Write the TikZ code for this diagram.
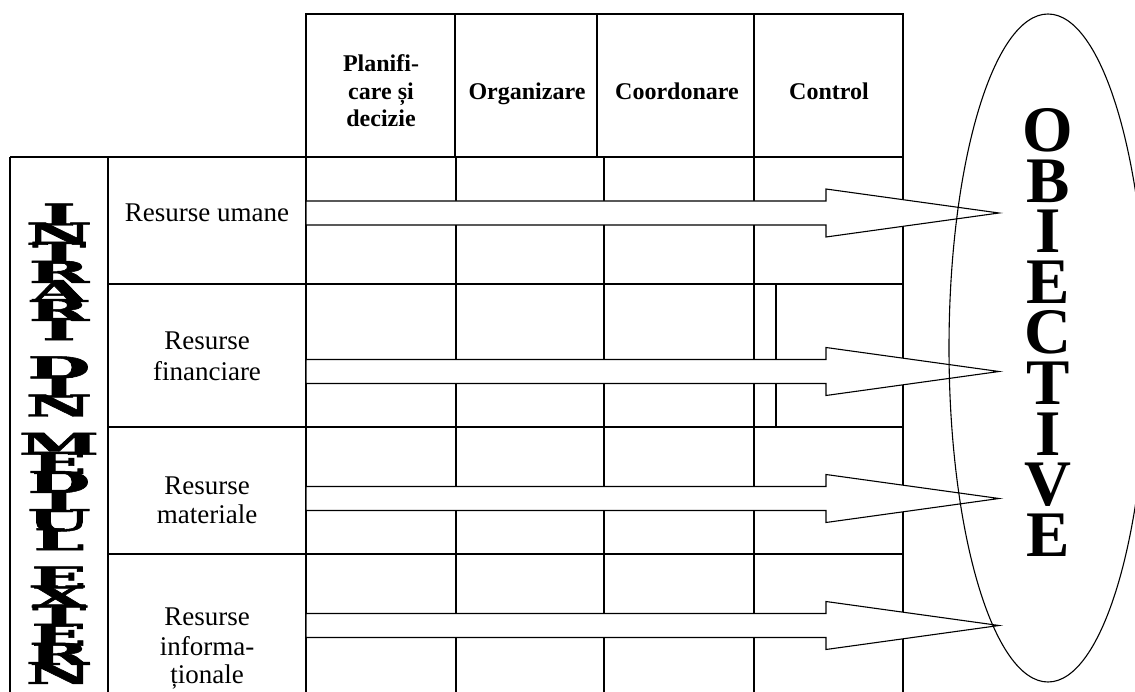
\documentclass[tikz,border=0pt]{standalone}
\usepackage{graphicx}
\usepackage{fontspec}
\setmainfont{Liberation Serif}
\newfontfamily\slabfont{DejaVu Serif}[BoldFeatures={FakeBold=1.6}]
\usetikzlibrary{shapes.geometric}

\tikzset{
  tabline/.style={line width=1.1pt},
  flow/.style={draw, line width=1.1pt, fill=white, line join=miter},
  headtxt/.style={font=\fontsize{24}{27}\selectfont\bfseries, inner sep=0pt, anchor=base},
  rowtxt/.style={font=\fontsize{27}{30}\selectfont, inner sep=0pt, anchor=base},
  vlet/.style={font=\fontsize{50}{50}\slabfont\bfseries, inner sep=0pt, anchor=base},
  olet/.style={font=\fontsize{65}{65}\selectfont\bfseries, inner sep=0pt, anchor=base},
  goal/.style={draw, ellipse, line width=1.1pt, inner sep=0pt},
}

\begin{document}
\begin{tikzpicture}[x=1pt,y=-1pt]
\useasboundingbox (0,0) rectangle (1135,692);

% header row of the management functions
\draw[tabline] (306,14) rectangle (903,157);
\foreach \x in {455,597,754} \draw[tabline] (\x,14) -- (\x,157);

% body of the table
\draw[tabline] (10,157) -- (903,157);
\foreach \x in {10,108,306,456,604,754,903} \draw[tabline] (\x,157) -- (\x,692);
\foreach \y in {284,427,554} \draw[tabline] (108,\y) -- (903,\y);
\draw[tabline] (776,284) -- (776,427);

% resource flows
\foreach \c [count=\i] in {213,371.5,498.5,625.5} {
  \coordinate (tip\i) at (999,\c);
  \draw[flow] (306,\c-12) -- (826,\c-12) -- (826,\c-24) -- (tip\i)
              -- (826,\c+24) -- (826,\c+12) -- (306,\c+12) -- cycle;
}

% objectives
\node[goal, minimum width=198pt, minimum height=668pt] (obj) at (1048,348) {};
\foreach \ch [count=\k from 0] in {O,B,I,E,C,T,I,V,E}
  \node[olet] (o\k) at (1048,152+50.5*\k) {\ch};

% vertical caption of the inputs column
\foreach \ch/\s in {I/0,N/1,T/2,R/3,A/4,R/5,I/6,D/8,I/9,N/10,M/12,E/13,D/14,I/15,U/16,L/17,E/19,X/20,T/21,E/22,R/23,N/24}
  \node[vlet] (v\s) at (59,225.5+19.1*\s) {\scalebox{1.45}[0.6]{\ch}};

% column headings
\node[headtxt] (h1a) at (381,71.7) {Planifi-};
\node[headtxt] (h1b) at (381,100) {care și};
\node[headtxt] (h1c) at (381,127) {decizie};
\node[headtxt] (h2) at (527,100) {Organizare};
\node[headtxt] (h3) at (677,100) {Coordonare};
\node[headtxt] (h4) at (829,100) {Control};

% row headings
\node[rowtxt] (r1) at (207,222) {Resurse umane};
\node[rowtxt] (r2a) at (207,350) {Resurse};
\node[rowtxt] (r2b) at (207,381) {financiare};
\node[rowtxt] (r3a) at (207,494) {Resurse};
\node[rowtxt] (r3b) at (207,523.5) {materiale};
\node[rowtxt] (r4a) at (207,625) {Resurse};
\node[rowtxt] (r4b) at (207,655) {informa-};
\node[rowtxt] (r4c) at (207,683) {ționale};
\end{tikzpicture}
\end{document}
